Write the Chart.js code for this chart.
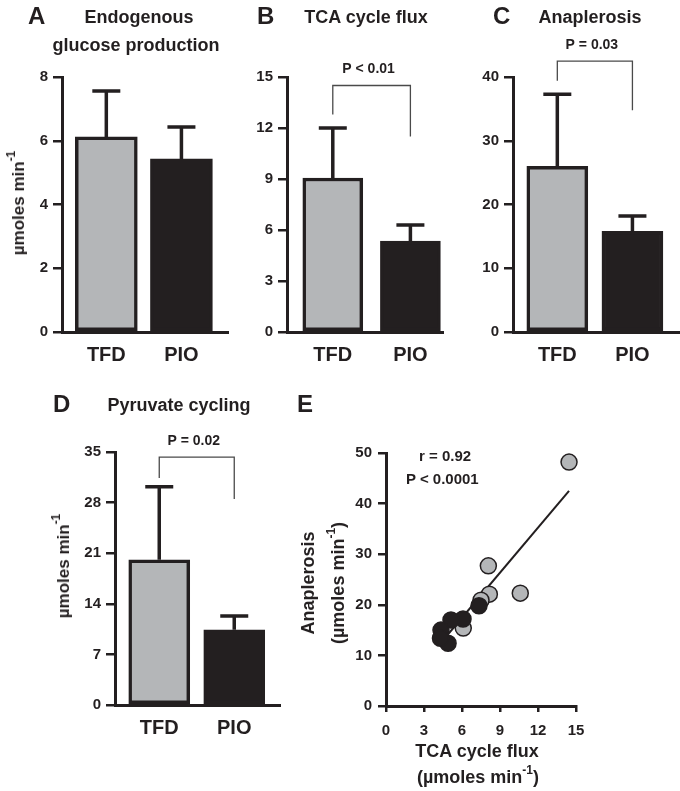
<!DOCTYPE html>
<html>
<head>
<meta charset="utf-8">
<script src="https://cdn.jsdelivr.net/npm/chart.js@4.4.1/dist/chart.umd.min.js"></script>
<style>
    body { margin: 0; background: #fff; }
    #fig { position: relative; width: 680px; height: 791px; overflow: hidden;
           font-family: "Liberation Sans", Arial, sans-serif; font-weight: bold; color: #231f20; }
    #fig canvas { position: absolute; left: 0; top: 0; pointer-events: none; }
    .t { position: absolute; white-space: nowrap; line-height: 1; }
    .c { transform: translateX(-50%); }
    .rot { position: absolute; white-space: nowrap; text-align: center; transform: translate(-50%, -50%) rotate(-90deg); }
    .sup { font-size: 12px; position: relative; top: -9px; }
</style>
</head>
<body>
<div id="fig">
    <canvas id="chartA" width="680" height="791"></canvas>
    <canvas id="chartB" width="680" height="791"></canvas>
    <canvas id="chartC" width="680" height="791"></canvas>
    <canvas id="chartD" width="680" height="791"></canvas>
    <canvas id="chartE" width="680" height="791"></canvas>

    <!-- panel letters and titles -->
    <div class="t" style="left:28px; top:4px; font-size:24px;">A</div>
    <div class="t c" style="left:139px; top:8px; font-size:18px;">Endogenous</div>
    <div class="t c" style="left:136px; top:36px; font-size:18px;">glucose production</div>
    <div class="t" style="left:257px; top:4px; font-size:24px;">B</div>
    <div class="t c" style="left:366px; top:8px; font-size:18px;">TCA cycle flux</div>
    <div class="t" style="left:493px; top:4px; font-size:24px;">C</div>
    <div class="t c" style="left:590px; top:8px; font-size:18px;">Anaplerosis</div>
    <div class="t" style="left:53px; top:392px; font-size:24px;">D</div>
    <div class="t c" style="left:179px; top:396px; font-size:18px;">Pyruvate cycling</div>
    <div class="t" style="left:297px; top:392px; font-size:24px;">E</div>

    <!-- y axis titles -->
    <div class="rot" style="left:19px; top:203px; font-size:17px;">µmoles min<span class="sup">-1</span></div>
    <div class="rot" style="left:64px; top:566px; font-size:17px;">µmoles min<span class="sup">-1</span></div>
    <div class="rot" style="left:324px; top:583px; font-size:18px; line-height:30px;">Anaplerosis<br>(µmoles min<span class="sup">-1</span>)</div>

    <!-- panel E x title and stats -->
    <div class="t c" style="left:477px; top:742px; font-size:18px;">TCA cycle flux</div>
    <div class="t c" style="left:478px; top:768px; font-size:18px;">(µmoles min<span class="sup">-1</span>)</div>
    <div class="t" style="left:419px; top:448px; font-size:15px;">r = 0.92</div>
    <div class="t" style="left:406px; top:471px; font-size:15px;">P &lt; 0.0001</div>
</div>

<script>
// --- data ---
const groups = ['TFD', 'PIO'];

const egpMean = [6.12, 5.43];
const egpSem = [1.44, 1.0];

const tcaMean = [9.06, 5.35];
const tcaSem = [2.94, 0.95];
const tcaBracket = [12.8, 14.5, 11.5]; // left leg end, top, right leg end
const tcaP = 'P < 0.01';

const anaMean = [26.0, 15.8];
const anaSem = [11.3, 2.4];
const anaBracket = [39.4, 42.5, 34.8];
const anaP = 'P = 0.03';

const pcMean = [20.1, 10.4];
const pcSem = [10.1, 1.9];
const pcBracket = [31.4, 34.3, 28.5];
const pcP = 'P = 0.02';

// panel E scatter
const tfdFlux = [14.45, 8.08, 10.6, 8.16, 7.5, 6.1];
const tfdAna = [48.2, 27.7, 22.3, 22.1, 20.9, 15.4];
const pioFlux = [7.34, 6.08, 5.13, 4.34, 4.9, 4.3];
const pioAna = [19.8, 17.2, 17.0, 15.0, 12.4, 13.4];
const fitFlux = [4.3, 14.45];
const fitAna = [12.4, 42.5];

const DARK = '#231f20';
const GREY = '#b4b6b8';
const FONT = '"Liberation Sans", Arial, sans-serif';
const PAGE_W = 680, PAGE_H = 791;
const Y_W = 50, X_H = 40;

Chart.defaults.font.family = FONT;
Chart.defaults.font.weight = 'bold';
Chart.defaults.color = DARK;

// padding so that the plot area lands on [l, t, r, b]
function padFor(l, t, r, b) {
    return { left: l - Y_W, top: t, right: PAGE_W - r, bottom: PAGE_H - b - X_H };
}

const errorBars = {
    id: 'errorBars',
    afterDatasetsDraw(chart) {
        const ds = chart.data.datasets[0];
        if (!ds.sem) return;
        const meta = chart.getDatasetMeta(0);
        const yScale = chart.scales.y;
        const ctx = chart.ctx;
        ctx.save();
        ctx.strokeStyle = DARK;
        ctx.lineWidth = 3.5;
        meta.data.forEach((bar, i) => {
            const top = yScale.getPixelForValue(ds.data[i].y + ds.sem[i]);
            ctx.beginPath();
            ctx.moveTo(bar.x, bar.y);
            ctx.lineTo(bar.x, top);
            ctx.moveTo(bar.x - 14, top);
            ctx.lineTo(bar.x + 14, top);
            ctx.stroke();
        });
        ctx.restore();
    }
};

const bracket = {
    id: 'bracket',
    afterDraw(chart, args, opts) {
        if (!opts.ys) return;
        const { x, y } = chart.scales;
        const ctx = chart.ctx;
        const x1 = x.getPixelForValue(1), x2 = x.getPixelForValue(2);
        const [l, t, r] = opts.ys.map(v => y.getPixelForValue(v));
        ctx.save();
        ctx.strokeStyle = '#4a4a4a';
        ctx.lineWidth = 1.3;
        ctx.beginPath();
        ctx.moveTo(x1, l);
        ctx.lineTo(x1, t);
        ctx.lineTo(x2, t);
        ctx.lineTo(x2, r);
        ctx.stroke();
        ctx.fillStyle = DARK;
        ctx.font = 'bold 14px ' + FONT;
        ctx.textAlign = 'center';
        ctx.textBaseline = 'middle';
        ctx.fillText(opts.label, (x1 + x2) / 2 - 3, t - 16);
        ctx.restore();
    }
};

function barPanel(id, area, mean, sem, yMax, yStep, xMax, thick, br, label) {
    new Chart(document.getElementById(id), {
        type: 'bar',
        data: {
            datasets: [{
                data: mean.map((v, i) => ({ x: i + 1, y: v })),
                sem: sem,
                backgroundColor: [GREY, DARK],
                borderColor: DARK,
                borderWidth: 3.5,
                borderSkipped: false,
                barThickness: thick
            }]
        },
        options: {
            responsive: false,
            animation: false,
            devicePixelRatio: 1,
            layout: { padding: padFor(...area) },
            plugins: {
                legend: { display: false },
                tooltip: { enabled: false },
                bracket: { ys: br, label: label }
            },
            scales: {
                x: {
                    type: 'linear', min: 0.41, max: xMax, offset: false, bounds: 'data',
                    afterBuildTicks: s => { s.ticks = groups.map((g, i) => ({ value: i + 1 })); },
                    afterFit: s => { s.height = X_H; },
                    grid: { display: false, offset: false },
                    border: { width: 3, color: DARK },
                    ticks: { callback: v => groups[v - 1], font: { size: 20 }, padding: 3, maxRotation: 0, autoSkip: false }
                },
                y: {
                    min: 0, max: yMax,
                    afterFit: s => { s.width = Y_W; },
                    grid: { drawOnChartArea: false, tickLength: 9, lineWidth: 2.5, color: DARK },
                    border: { width: 3, color: DARK },
                    ticks: { stepSize: yStep, font: { size: 15 }, padding: 5 }
                }
            }
        },
        plugins: [errorBars, bracket]
    });
}

barPanel('chartA', [62, 77, 228, 332], egpMean, egpSem, 8, 2, 2.62, 62, null, '');
barPanel('chartB', [287, 77, 443, 332], tcaMean, tcaSem, 15, 3, 2.42, 60, tcaBracket, tcaP);
barPanel('chartC', [513, 77, 679, 332], anaMean, anaSem, 40, 10, 2.62, 61, anaBracket, anaP);
barPanel('chartD', [115, 452, 280, 705], pcMean, pcSem, 35, 7, 2.61, 61, pcBracket, pcP);

// panel E: anaplerosis vs TCA cycle flux
const toPts = (xs, ys) => xs.map((v, i) => ({ x: v, y: ys[i] }));

new Chart(document.getElementById('chartE'), {
    type: 'scatter',
    data: {
        datasets: [
            {
                label: 'PIO', data: toPts(pioFlux, pioAna), order: 0,
                backgroundColor: DARK, borderColor: DARK, borderWidth: 1.5, pointRadius: 8, clip: false
            },
            {
                label: 'TFD', data: toPts(tfdFlux, tfdAna), order: 1,
                backgroundColor: GREY, borderColor: DARK, borderWidth: 1.5, pointRadius: 8, clip: false
            },
            {
                label: 'fit', data: toPts(fitFlux, fitAna), order: 2, showLine: true,
                borderColor: DARK, borderWidth: 2, pointRadius: 0
            }
        ]
    },
    options: {
        responsive: false,
        animation: false,
        devicePixelRatio: 1,
        layout: { padding: padFor(386, 453, 576, 706) },
        plugins: { legend: { display: false }, tooltip: { enabled: false } },
        scales: {
            x: {
                type: 'linear', min: 0, max: 15,
                afterFit: s => { s.height = X_H; },
                grid: { drawOnChartArea: false, tickLength: 6, lineWidth: 2.5, color: DARK },
                border: { width: 3, color: DARK },
                ticks: { stepSize: 3, font: { size: 15 }, padding: 10 }
            },
            y: {
                min: 0, max: 50,
                afterFit: s => { s.width = Y_W; },
                grid: { drawOnChartArea: false, tickLength: 8, lineWidth: 2.5, color: DARK },
                border: { width: 3, color: DARK },
                ticks: { stepSize: 10, font: { size: 15 }, padding: 6 }
            }
        }
    }
});
</script>
</body>
</html>
